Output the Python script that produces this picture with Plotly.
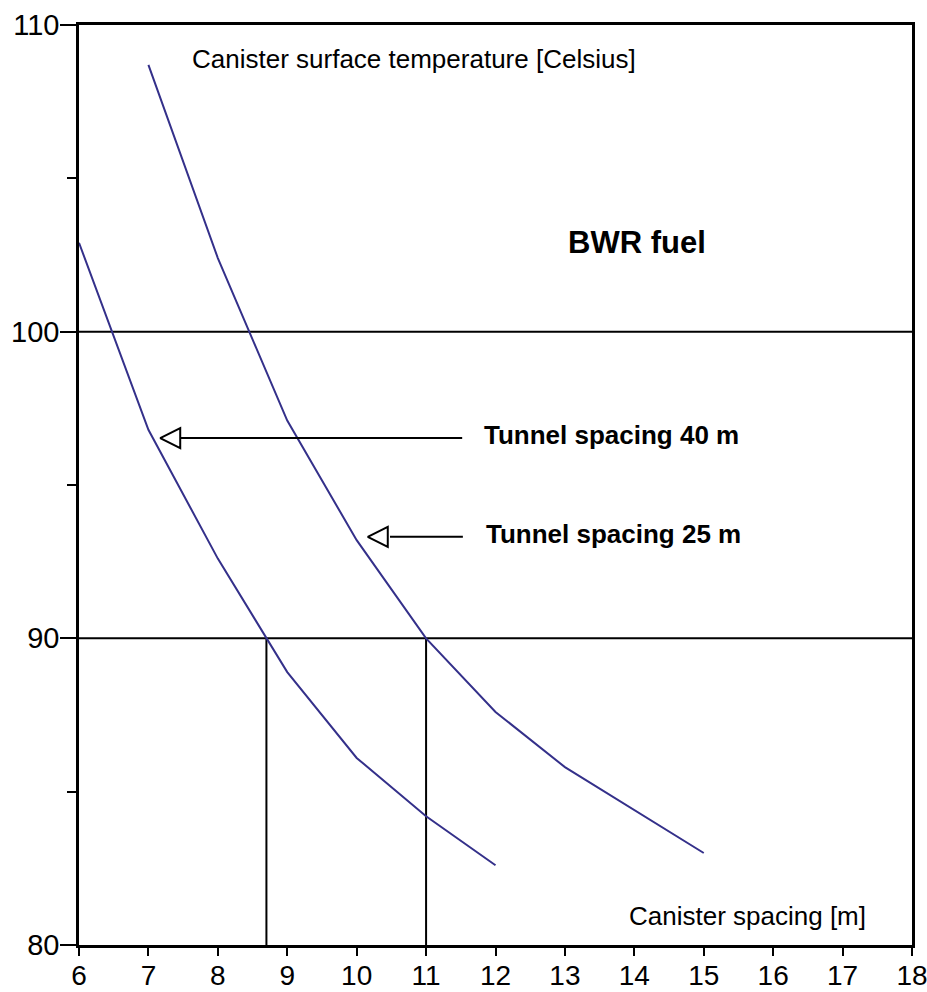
import plotly.graph_objects as go

# Data
spacing_40 = [6, 7, 8, 9, 10, 11, 12]
temp_40 = [102.9, 96.8, 92.6, 88.9, 86.1, 84.2, 82.6]

spacing_25 = [7, 8, 9, 10, 11, 12, 13, 15]
temp_25 = [108.7, 102.4, 97.1, 93.2, 90.0, 87.6, 85.8, 83.0]

ref_temps = [100, 90]
design_spacings = [8.7, 11.0]
design_temp = 90

x_ticks = list(range(6, 19))
y_ticks = [80, 90, 100, 110]

# arrow annotations: tip x, line start x, line end x, y, label
arrow_tips = [7.17, 10.16]
arrow_starts = [7.46, 10.48]
arrow_ends = [11.52, 11.53]
arrow_ys = [96.53, 93.31]
arrow_labels = ["Tunnel spacing 40 m", "Tunnel spacing 25 m"]
label_x = [11.81, 11.84]

FONT = "Liberation Sans, Arial, sans-serif"
CURVE = "#34308a"

fig = go.Figure()

# reference horizontal lines
for t in ref_temps:
    fig.add_trace(go.Scatter(x=[6, 18], y=[t, t], mode="lines",
                             line=dict(color="black", width=2), hoverinfo="skip"))
# design vertical lines
for s in design_spacings:
    fig.add_trace(go.Scatter(x=[s, s], y=[80, design_temp], mode="lines",
                             line=dict(color="black", width=2), hoverinfo="skip"))

# curves
fig.add_trace(go.Scatter(x=spacing_40, y=temp_40, mode="lines",
                         line=dict(color=CURVE, width=2), name="Tunnel spacing 40 m"))
fig.add_trace(go.Scatter(x=spacing_25, y=temp_25, mode="lines",
                         line=dict(color=CURVE, width=2), name="Tunnel spacing 25 m"))

# arrows
for tip, st, en, y in zip(arrow_tips, arrow_starts, arrow_ends, arrow_ys):
    fig.add_trace(go.Scatter(x=[st, en], y=[y, y], mode="lines",
                             line=dict(color="black", width=2), hoverinfo="skip"))
    fig.add_trace(go.Scatter(x=[tip], y=[y], mode="markers",
                             marker=dict(symbol="arrow-left-open", size=20,
                                         color="black", line=dict(color="black", width=2)),
                             hoverinfo="skip"))

annotations = [
    dict(x=7.6, y=108.89, text="Canister surface temperature [Celsius]",
         xanchor="left", yanchor="middle", font=dict(size=26)),
    dict(x=14.04, y=102.92, text="<b>BWR fuel</b>",
         xanchor="center", yanchor="middle", font=dict(size=31)),
    dict(x=13.90, y=80.95, text="Canister spacing [m]",
         xanchor="left", yanchor="middle", font=dict(size=26)),
]
for lx, y, lab in zip(label_x, arrow_ys, arrow_labels):
    annotations.append(dict(x=lx, y=y + 0.1, text="<b>%s</b>" % lab,
                            xanchor="left", yanchor="middle", font=dict(size=26)))
for a in annotations:
    a.update(xref="x", yref="y", showarrow=False)
    a["font"].update(family=FONT, color="black")

fig.update_layout(
    width=927, height=992,
    margin=dict(l=79, r=15, t=25, b=47),
    paper_bgcolor="white", plot_bgcolor="white",
    showlegend=False,
    font=dict(family=FONT, size=26, color="black"),
    annotations=annotations,
)
fig.update_xaxes(range=[6, 18], tickvals=x_ticks, ticktext=[str(v) for v in x_ticks],
                 automargin=False, ticklabeloverflow="allow", ticklabelstandoff=-4,
                 showgrid=False, zeroline=False, showline=True, linecolor="black",
                 linewidth=2.5, mirror=True, ticks="outside", ticklen=8, tickwidth=2,
                 tickcolor="black", tickfont=dict(size=28, family=FONT))
fig.update_yaxes(range=[80, 110], tickvals=y_ticks, ticktext=[str(v) for v in y_ticks],
                 automargin=False, ticklabeloverflow="allow", ticklabelstandoff=-5,
                 showgrid=False, zeroline=False, showline=True, linecolor="black",
                 linewidth=2.5, mirror=True, ticks="outside", ticklen=16, tickwidth=2,
                 tickcolor="black", tickfont=dict(size=29, family=FONT),
                 minor=dict(tickvals=[85, 95, 105], ticks="outside", ticklen=9,
                            tickwidth=2, tickcolor="black"))

fig.write_html("out.html")
